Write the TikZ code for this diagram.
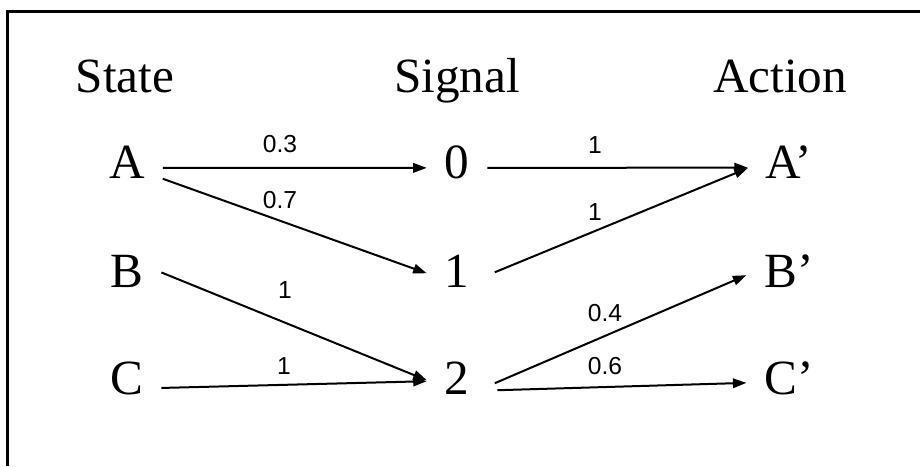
\documentclass[tikz,border=0pt]{standalone}
\usepackage{fontspec}
\setmainfont{Liberation Serif}
\newfontfamily\probfont{Liberation Sans}
\usetikzlibrary{arrows.meta}

\begin{document}
\begin{tikzpicture}[
    big/.style={font=\fontsize{28}{34}\selectfont,inner sep=0pt,outer sep=0.36cm,anchor=base},
    prob/.style={font=\probfont\fontsize{14}{16}\selectfont,inner sep=0pt},
    arr/.style={-{Triangle[length=0.27cm,width=0.19cm]},line width=0.04cm}]
  \useasboundingbox (0,0) rectangle (18.4,9.32);
  \draw[line width=0.06cm] (0.14,0) -- (0.14,9.08) -- (18.4,9.08);
  % column heads
  \node[big] (hstate) at (2.5,7.46) {State};
  \node[big] (hsignal) at (9.14,7.46) {Signal};
  \node[big] (haction) at (15.6,7.46) {Action};
  % states, signals, actions
  \node[big] (A) at (2.54,5.76) {A};
  \node[big] (B) at (2.54,3.58) {B};
  \node[big] (C) at (2.54,1.44) {C};
  \node[big] (s0) at (9.14,5.76) {0};
  \node[big] (s1) at (9.14,3.58) {1};
  \node[big] (s2) at (9.14,1.44) {2};
  \node[big] (Ap) at (15.78,5.76) {A’};
  \node[big] (Bp) at (15.78,3.58) {B’};
  \node[big] (Cp) at (15.78,1.44) {C’};
  % state -> signal
  \draw[arr] ([yshift=-0.12cm]A.east) -- ([yshift=-0.12cm]s0.west);
  \draw[arr] ([yshift=-0.34cm]A.east) -- ([yshift=-0.05cm]s1.west);
  \draw[arr] ([yshift=-0.03cm]B.east) -- ([yshift=-0.05cm]s2.west);
  \draw[arr] ([yshift=-0.2cm]C.east) -- ([yshift=-0.07cm]s2.west);
  % signal -> action
  \draw[arr] ([yshift=-0.12cm]s0.east) -- ([yshift=-0.12cm]Ap.west);
  \draw[arr] ([xshift=0.15cm,yshift=-0.03cm]s1.east) -- ([yshift=-0.13cm]Ap.west);
  \draw[arr] ([xshift=0.15cm,yshift=-0.11cm]s2.east) -- ([yshift=-0.09cm]Bp.west);
  \draw[arr] ([xshift=0.2cm,yshift=-0.25cm]s2.east) -- ([yshift=-0.1cm]Cp.west);
  % probabilities
  \node[prob] (pA0) at (5.6,6.43) {0.3};
  \node[prob] (pA1) at (5.6,5.32) {0.7};
  \node[prob] (pB2) at (5.7,3.52) {1};
  \node[prob] (pC2) at (5.68,2.0) {1};
  \node[prob] (p0A) at (11.9,6.42) {1};
  \node[prob] (p1A) at (11.9,5.08) {1};
  \node[prob] (p2B) at (12.1,3.06) {0.4};
  \node[prob] (p2C) at (12.1,2.0) {0.6};
\end{tikzpicture}
\end{document}
